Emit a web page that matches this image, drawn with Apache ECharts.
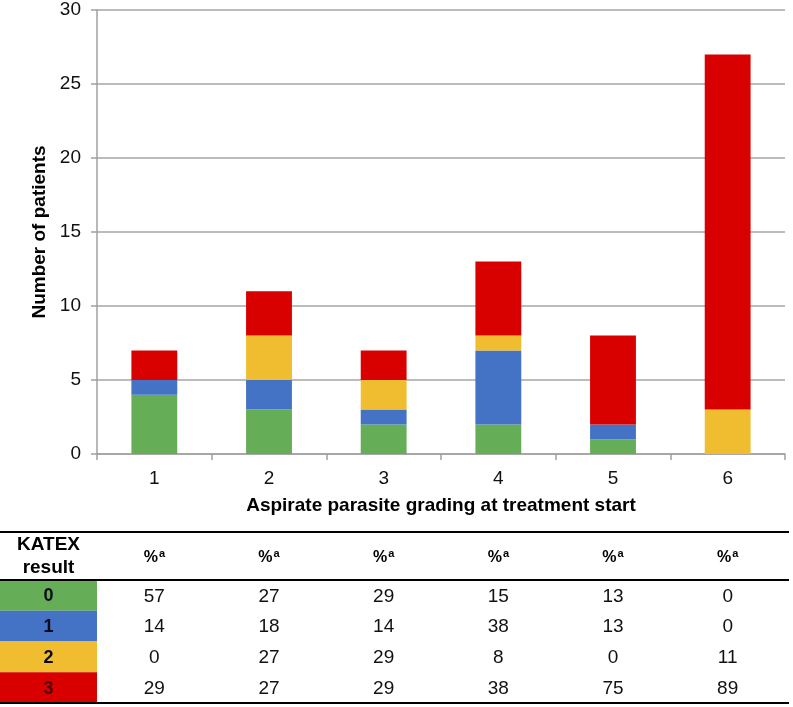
<!DOCTYPE html>
<html>
<head>
<meta charset="utf-8">
<script src="https://cdn.jsdelivr.net/npm/echarts@6/dist/echarts.min.js"></script>
<style>
html,body{margin:0;padding:0;background:#fff;}
#chart{width:793px;height:707px;}
</style>
</head>
<body>
<div id="chart"></div>
<script>
// ---- data ----
const categories = ['1', '2', '3', '4', '5', '6'];
const katex0 = [4, 3, 2, 2, 1, 0];
const katex1 = [1, 2, 1, 5, 1, 0];
const katex2 = [0, 3, 2, 1, 0, 3];
const katex3 = [2, 3, 2, 5, 6, 24];
const seriesNames = ['0', '1', '2', '3'];
const pct0 = [57, 27, 29, 15, 13, 0];
const pct1 = [14, 18, 14, 38, 13, 0];
const pct2 = [0, 27, 29, 8, 0, 11];
const pct3 = [29, 27, 29, 38, 75, 89];
const yTicks = [0, 5, 10, 15, 20, 25, 30];
const xTitle = 'Aspirate parasite grading at treatment start';
const yTitle = 'Number of patients';

// ---- styles ----
const colors = ['#66ad57', '#4472c4', '#f0bd30', '#d90000'];
const FONT = '"Liberation Sans", Arial, sans-serif';
const chart = echarts.init(document.getElementById('chart'), null, {renderer: 'canvas'});
const allData = [katex0, katex1, katex2, katex3];
const allPct = [pct0, pct1, pct2, pct3];

const option = {
  animation: false,
  backgroundColor: '#fff',
  grid: {left: 97, right: 8, top: 10, bottom: 253, containLabel: false},
  xAxis: {
    type: 'category',
    data: categories,
    name: xTitle,
    nameLocation: 'middle',
    nameGap: 42,
    nameTextStyle: {fontFamily: FONT, fontSize: 19, fontWeight: 'bold', color: '#000'},
    axisLine: {lineStyle: {color: '#a0a0a0', width: 1.5}},
    axisTick: {show: true, length: 6, lineStyle: {color: '#a0a0a0', width: 1.5}},
    axisLabel: {fontFamily: FONT, fontSize: 19, color: '#111', margin: 15},
    splitLine: {show: false}
  },
  yAxis: {
    type: 'value',
    min: yTicks[0],
    max: yTicks[yTicks.length - 1],
    interval: yTicks[1] - yTicks[0],
    name: yTitle,
    nameLocation: 'middle',
    nameGap: 48,
    nameTextStyle: {fontFamily: FONT, fontSize: 19, fontWeight: 'bold', color: '#000'},
    axisLine: {show: true, lineStyle: {color: '#a0a0a0', width: 1.5}},
    axisTick: {show: true, length: 6, lineStyle: {color: '#a0a0a0', width: 1.5}},
    axisLabel: {fontFamily: FONT, fontSize: 19, color: '#111', margin: 16},
    splitLine: {show: true, lineStyle: {color: '#a6a6a6', width: 1.5}}
  },
  series: allData.map((d, i) => ({
    name: seriesNames[i],
    type: 'bar',
    stack: 'total',
    data: d,
    barWidth: '40%',
    itemStyle: {color: colors[i]}
  }))
};
chart.setOption(option);

// ---- table under the chart (columns aligned with category axis) ----
const W = 793;
const tableTop = 532, headerBottom = 580, rowH = 30.75, firstColW = 97;
const els = [];
// colored first-column cells
for (let r = 0; r < 4; r++) {
  const y0 = headerBottom + r * rowH;
  els.push({type: 'rect', shape: {x: 0, y: y0, width: firstColW, height: rowH}, style: {fill: colors[r]}, silent: true});
  els.push({type: 'text', x: firstColW / 2, y: y0 + rowH / 2 + 1,
    style: {text: seriesNames[r], fontFamily: FONT, fontSize: 18, fontWeight: 'bold', fill: r === 3 ? '#4a0000' : '#0a0a1a', align: 'center', verticalAlign: 'middle'}, silent: true});
}
// header
els.push({type: 'text', x: firstColW / 2, y: (tableTop + headerBottom) / 2,
  style: {text: 'KATEX\nresult', fontFamily: FONT, fontSize: 19, fontWeight: 'bold', fill: '#000', align: 'center', verticalAlign: 'middle', lineHeight: 23}, silent: true});
categories.forEach((c, ci) => {
  const cx = chart.convertToPixel({xAxisIndex: 0}, c);
  els.push({type: 'text', x: cx, y: (tableTop + headerBottom) / 2 + 2,
    style: {text: '{p|%}{s|a}', align: 'center', verticalAlign: 'middle',
      rich: {p: {fontFamily: FONT, fontSize: 16, fontWeight: 'bold', fill: '#000'},
             s: {fontFamily: FONT, fontSize: 11, fontWeight: 'bold', fill: '#000', padding: [0, 0, 8, 1]}}}, silent: true});
  for (let r = 0; r < 4; r++) {
    els.push({type: 'text', x: cx, y: headerBottom + r * rowH + rowH / 2 + 1,
      style: {text: String(allPct[r][ci]), fontFamily: FONT, fontSize: 19, fill: '#111', align: 'center', verticalAlign: 'middle'}, silent: true});
  }
});
// rules
els.push({type: 'line', shape: {x1: 0, y1: tableTop, x2: W - 4, y2: tableTop}, style: {stroke: '#000', lineWidth: 2}, silent: true});
els.push({type: 'line', shape: {x1: 0, y1: headerBottom, x2: W - 4, y2: headerBottom}, style: {stroke: '#000', lineWidth: 2}, silent: true});
els.push({type: 'line', shape: {x1: 0, y1: headerBottom + 4 * rowH, x2: W - 4, y2: headerBottom + 4 * rowH}, style: {stroke: '#000', lineWidth: 2}, silent: true});

chart.setOption({graphic: {elements: els}});
</script>
</body>
</html>
